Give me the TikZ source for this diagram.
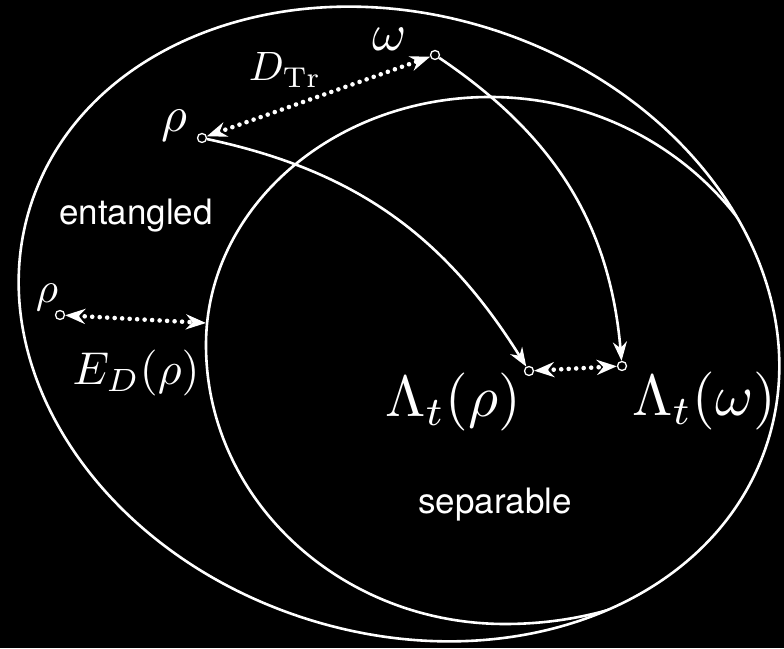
\documentclass[tikz,border=0pt]{standalone}
\usepackage{fontspec}
\newfontfamily\regionfont{TeX Gyre Heros}
\usetikzlibrary{arrows.meta}

\tikzset{
  ring/.style={draw=white, line width=2.6pt},
  state/.style={circle, draw=white, line width=1.3pt, inner sep=0pt, minimum size=9pt},
  evolve/.style={white, line width=2.6pt, -{Stealth[length=19pt,width=14pt]}},
  dist/.style={white, line width=4.6pt, dash pattern=on 0pt off 7.5pt, line cap=round,
    {Stealth[length=20pt,width=15pt]}-{Stealth[length=20pt,width=15pt]}},
  region/.style={white, font=\regionfont\fontsize{35}{40}\selectfont},
  lbl/.style={white, inner sep=0pt, font=\normalsize}
}

\begin{document}
\begin{tikzpicture}[x=1pt, y=1pt]
    \fill[black] (0,0) rectangle (784,648);
    \useasboundingbox (0,0) rectangle (784,648);

    % all states
    \draw[ring, rotate around={-18:(399,324)}] (399,324) ellipse [x radius=387, y radius=309];
    % separable states, right side runs along the outer set
    \begin{scope}
      \clip[rotate around={-18:(399,324)}] (399,324) ellipse [x radius=387, y radius=309];
      \draw[ring] (206,303) .. controls (206,440) and (333,551) .. (490,551)
        .. controls (661,551) and (800,415) .. (800,248)
        .. controls (800,124) and (668,24) .. (505,24)
        .. controls (340,24) and (206,149) .. cycle;
    \end{scope}

    \node[region] (ent) at (136,432) {entangled};
    \node[region] (sep) at (495,143) {separable};

    % states
    \node[state] (rho) at (202,510) {};
    \node[state] (omega) at (435,593) {};
    \node[state] (rhoL) at (60,333) {};
    \node[state] (Lrho) at (529,277) {};
    \node[state] (Lomega) at (622,282) {};
    \coordinate (edge) at (206,325);

    \node[lbl, scale=5.0] (rholbl) at (174,522) {$\rho$};
    \node[lbl, scale=5.2] (omegalbl) at (390,609) {$\omega$};
    \node[lbl, scale=4.3] (rhoLlbl) at (47,351) {$\rho$};
    \node[lbl, scale=4.1] (dtr) at (285,578) {$D_{\mathrm{Tr}}$};
    \node[lbl, scale=4.6] (ed) at (136,275) {$E_D(\rho)$};
    \node[lbl, scale=5.8] (Lrholbl) at (453,246) {$\Lambda_t(\rho)$};
    \node[lbl, scale=5.8] (Lomegalbl) at (704,247) {$\Lambda_t(\omega)$};

    % distances
    \draw[dist] (rho) -- (omega);
    \draw[dist] (rhoL) -- (edge);
    \draw[dist] (Lrho) -- (Lomega);

    % evolution
    \draw[evolve] (rho) to[out=-12, in=122] (Lrho);
    \draw[evolve] (omega) to[out=-34, in=95] (Lomega);
\end{tikzpicture}
\end{document}
